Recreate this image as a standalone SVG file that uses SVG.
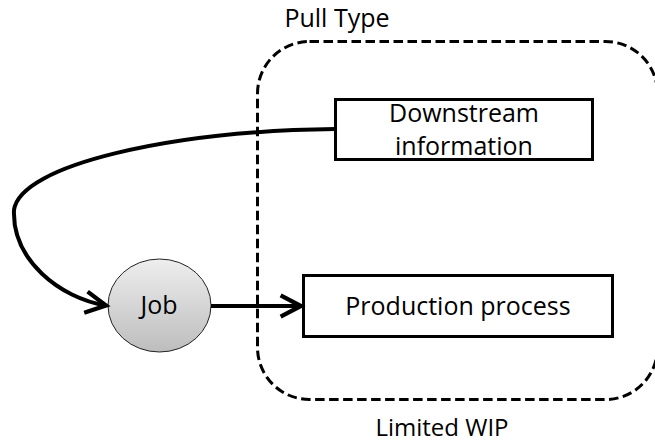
<svg xmlns="http://www.w3.org/2000/svg" width="655" height="444" viewBox="0 0 655 444">
<defs>
<style>
.t{font-family:"Open Sans","Liberation Sans",sans-serif;font-size:25px;fill:#000;text-anchor:middle}
.box{fill:#fff;stroke:#000;stroke-width:3}
.con{fill:none;stroke:#000;stroke-width:4}
</style>
<linearGradient id="g" x1="0" y1="0" x2="0" y2="1">
<stop offset="0" stop-color="#eeeeee"/>
<stop offset="1" stop-color="#bdbdbd"/>
</linearGradient>
<marker id="ah" markerUnits="userSpaceOnUse" markerWidth="30" markerHeight="30" viewBox="-24 -14 28 28" refX="0" refY="0" orient="auto" overflow="visible">
<path d="M-19,-10 L0,0 L-19,10" fill="none" stroke="#000" stroke-width="4"/>
</marker>
</defs>
<g id="boundary">
<rect x="257.5" y="41.5" width="400" height="358" rx="52" ry="52" fill="none" stroke="#000" stroke-width="3" stroke-dasharray="9.5 4.5"/>
<text class="t" x="337" y="27">Pull Type</text>
<text class="t" x="442" y="436" style="font-size:24px">Limited WIP</text>
</g>
<g id="downstream">
<rect class="box" x="335.5" y="99.5" width="257" height="60"/>
<text class="t" x="464" y="122">Downstream</text>
<text class="t" x="464" y="155">information</text>
</g>
<g id="production">
<rect class="box" x="303.5" y="275.5" width="309" height="61"/>
<text class="t" x="458" y="315">Production process</text>
</g>
<g id="job">
<ellipse cx="159.5" cy="305.5" rx="51.5" ry="46.5" fill="url(#g)" stroke="#222" stroke-width="1"/>
<text class="t" x="159" y="314">Job</text>
</g>
<g id="connectors">
<path class="con" d="M335,129 C170,131 20,165 14,210 C12,260 60,298 106,305.5" marker-end="url(#ah)"/>
<path class="con" d="M211,306 L301,306" marker-end="url(#ah)"/>
</g>
</svg>
